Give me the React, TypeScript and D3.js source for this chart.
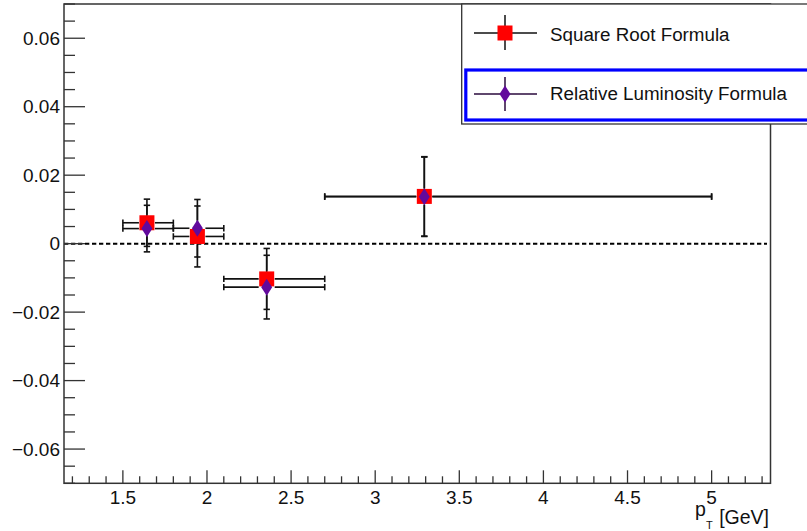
import React from "react";
import * as d3 from "d3";

// ---- data ----
const binLow = [1.5, 1.8, 2.1, 2.7];
const binHigh = [1.8, 2.1, 2.7, 5.0];
const ptMean = [1.643, 1.943, 2.355, 3.292];
const sqrtVals = [0.0061, 0.0021, -0.0103, 0.0138];
const sqrtErrs = [0.0069, 0.0089, 0.0089, 0.0116];
const lumiVals = [0.0044, 0.0045, -0.0127, 0.0137];
const lumiErrs = [0.0068, 0.0084, 0.0093, 0.0116];
const seriesNames = ["Square Root Formula", "Relative Luminosity Formula"];
const xTickValues = [1.5, 2, 2.5, 3, 3.5, 4, 4.5, 5];
const yTickValues = [-0.06, -0.04, -0.02, 0, 0.02, 0.04, 0.06];
const xDomain = [1.15, 5.35];
const yDomain = [-0.07, 0.07];

const W = 807;
const H = 531;
const FL = 64;
const FR = 770.5;
const FT = 4;
const FB = 483.3;
const FONT = "'Liberation Sans', Arial, Helvetica, sans-serif";
const RED = "#ff0000";
const PURPLE = "#62099c";

const x = d3.scaleLinear().domain(xDomain).range([FL, FR]);
const y = d3.scaleLinear().domain(yDomain).range([FB, FT]);

function fmtY(v: number) {
  if (Math.abs(v) < 1e-9) return "0";
  const s = Math.abs(v).toFixed(2);
  return (v < 0 ? "\u2212" : "") + s;
}
function fmtX(v: number) {
  return Number.isInteger(v) ? String(v) : v.toFixed(1);
}

function ErrorBars({ vals, errs, gap }: { vals: number[]; errs: number[]; gap: number }) {
  const cap = 3.2;
  return (
    <g stroke="#111" strokeWidth={1.6} fill="none">
      {vals.map((v, i) => {
        const cx = x(ptMean[i]);
        const cy = y(v);
        const xl = x(binLow[i]);
        const xh = x(binHigh[i]);
        const yt = y(v + errs[i]);
        const yb = y(v - errs[i]);
        return (
          <g key={i}>
            <line x1={xl} x2={cx - gap} y1={cy} y2={cy} />
            <line x1={cx + gap} x2={xh} y1={cy} y2={cy} />
            <line x1={xl} x2={xl} y1={cy - cap} y2={cy + cap} />
            <line x1={xh} x2={xh} y1={cy - cap} y2={cy + cap} />
            <line x1={cx} x2={cx} y1={yt} y2={cy - gap} />
            <line x1={cx} x2={cx} y1={cy + gap} y2={yb} />
            <line x1={cx - cap} x2={cx + cap} y1={yt} y2={yt} />
            <line x1={cx - cap} x2={cx + cap} y1={yb} y2={yb} />
          </g>
        );
      })}
    </g>
  );
}

function Square({ cx, cy }: { cx: number; cy: number }) {
  const s = 15;
  return <rect x={cx - s / 2} y={cy - s / 2} width={s} height={s} fill={RED} />;
}
function Diamond({ cx, cy }: { cx: number; cy: number }) {
  const w = 5.5;
  const h = 8.5;
  return (
    <path
      d={`M${cx},${cy - h}L${cx + w},${cy}L${cx},${cy + h}L${cx - w},${cy}Z`}
      fill={PURPLE}
    />
  );
}

export default function App() {
  const xMinor = d3.range(12, 54).map((v) => v / 10);
  const yMinor = d3.range(-14, 15).map((v) => v * 0.005);
  return (
    <svg
      width={W}
      height={H}
      style={{ position: "absolute", left: 0, top: 0, background: "#fff" }}
      fontFamily={FONT}
    >
      <rect x={0} y={0} width={W} height={H} fill="#fff" />
      {/* zero dashed line */}
      <line
        x1={FL}
        x2={767}
        y1={y(0)}
        y2={y(0)}
        stroke="#000"
        strokeWidth={2}
        strokeDasharray="4.3 2.7"
      />
      {/* frame */}
      <rect x={FL} y={FT} width={FR - FL} height={FB - FT} fill="none" stroke="#333" strokeWidth={1.5} />
      {/* ticks */}
      <g stroke="#333" strokeWidth={1.3}>
        {xMinor.map((v, i) => {
          const major = xTickValues.some((t) => Math.abs(t - v) < 1e-6);
          return <line key={i} x1={x(v)} x2={x(v)} y1={FB} y2={FB - (major ? 13 : 7)} />;
        })}
        {yMinor.map((v, i) => {
          const major = yTickValues.some((t) => Math.abs(t - v) < 1e-6);
          return <line key={i} x1={FL} x2={FL + (major ? 21 : 11)} y1={y(v)} y2={y(v)} />;
        })}
      </g>
      <g fontSize={19} fill="#111">
        {xTickValues.map((v) => (
          <text key={v} x={x(v)} y={503.5} textAnchor="middle">
            {fmtX(v)}
          </text>
        ))}
        {yTickValues.map((v) => (
          <text key={v} x={60} y={y(v) + 6.7} textAnchor="end">
            {fmtY(v)}
          </text>
        ))}
      </g>
      {/* axis title */}
      <g fill="#111">
        <text x={695} y={516} fontSize={19.5}>p</text>
        <text x={706} y={528.5} fontSize={11}>T</text>
        <text x={769} y={523.5} fontSize={19.5} textAnchor="end">[GeV]</text>
      </g>
      {/* data */}
      <ErrorBars vals={sqrtVals} errs={sqrtErrs} gap={8} />
      <ErrorBars vals={lumiVals} errs={lumiErrs} gap={8} />
      {sqrtVals.map((v, i) => (
        <Square key={i} cx={x(ptMean[i])} cy={y(v)} />
      ))}
      {lumiVals.map((v, i) => (
        <Diamond key={i} cx={x(ptMean[i])} cy={y(v)} />
      ))}
      {/* legend */}
      <rect x={461.7} y={4} width={400} height={120} fill="#fff" stroke="#333" strokeWidth={1.3} />
      <rect x={465.8} y={70} width={400} height={50} fill="none" stroke="#0000ff" strokeWidth={3.2} />
      <g stroke="#111" strokeWidth={1.5}>
        <line x1={474} x2={537} y1={33} y2={33} />
        <line x1={505} x2={505} y1={15} y2={50} />
      </g>
      <Square cx={505} cy={33} />
      <g stroke="#2a0a3c" strokeWidth={1.5}>
        <line x1={474} x2={537} y1={94} y2={94} />
        <line x1={505} x2={505} y1={77} y2={111} />
      </g>
      <Diamond cx={505} cy={94} />
      <g fontSize={18.8} fill="#111">
        <text x={550} y={40.5}>{seriesNames[0]}</text>
        <text x={550} y={99.5}>{seriesNames[1]}</text>
      </g>
    </svg>
  );
}
